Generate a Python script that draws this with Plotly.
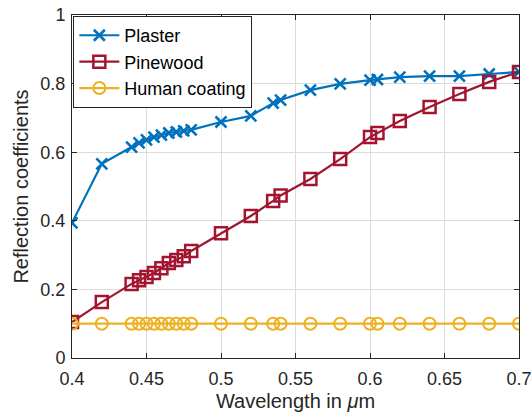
import plotly.graph_objects as go

wavelength = [0.40, 0.42, 0.44, 0.445, 0.45, 0.455, 0.46, 0.465, 0.47, 0.475, 0.48,
              0.50, 0.52, 0.535, 0.54, 0.56, 0.58, 0.60, 0.605, 0.62, 0.64, 0.66, 0.68, 0.70]
plaster = [0.394, 0.566, 0.615, 0.627, 0.636, 0.644, 0.650, 0.656, 0.659, 0.662, 0.665,
           0.688, 0.706, 0.743, 0.752, 0.781, 0.799, 0.810, 0.812, 0.819, 0.822, 0.822, 0.828, 0.834]
pinewood = [0.105, 0.163, 0.216, 0.227, 0.236, 0.248, 0.262, 0.277, 0.286, 0.297, 0.312,
            0.364, 0.414, 0.458, 0.474, 0.522, 0.580, 0.644, 0.656, 0.691, 0.732, 0.770, 0.805, 0.834]
human = [0.1] * len(wavelength)

x_ticks = [0.4, 0.45, 0.5, 0.55, 0.6, 0.65, 0.7]
x_labels = ["0.4", "0.45", "0.5", "0.55", "0.6", "0.65", "0.7"]
y_ticks = [0, 0.2, 0.4, 0.6, 0.8, 1]
y_labels = ["0", "0.2", "0.4", "0.6", "0.8", "1"]

FONT = "Liberation Sans, Arial"

fig = go.Figure()
fig.add_trace(go.Scatter(x=wavelength, y=plaster, name="Plaster", mode="lines+markers",
                         line=dict(color="#0072BD", width=2.2),
                         marker=dict(symbol="x-thin", size=11, line=dict(color="#0072BD", width=2.6))))
fig.add_trace(go.Scatter(x=wavelength, y=pinewood, name="Pinewood", mode="lines+markers",
                         line=dict(color="#A2142F", width=2.2),
                         marker=dict(symbol="square-open", size=12, color="#A2142F", line=dict(width=2.5))))
fig.add_trace(go.Scatter(x=wavelength, y=human, name="Human coating", mode="lines+markers",
                         line=dict(color="#EDB120", width=2.2),
                         marker=dict(symbol="circle-open", size=12, color="#EDB120", line=dict(width=2))))

axis_common = dict(showgrid=True, gridcolor="#dcdcdc", gridwidth=1, showline=True,
                   linecolor="#262626", linewidth=1, mirror="ticks", ticks="inside",
                   ticklen=5, tickcolor="#262626", zeroline=False, automargin=False,
                   tickfont=dict(family=FONT, size=18, color="#262626"))

fig.update_xaxes(range=[0.4, 0.7], tickvals=x_ticks, ticktext=x_labels,
                 ticklabelstandoff=4,
                 title=dict(text="Wavelength in <i>μ</i>m", standoff=6,
                            font=dict(family=FONT, size=20, color="#262626")),
                 **axis_common)
fig.update_yaxes(range=[0, 1], tickvals=y_ticks, ticktext=y_labels,
                 ticklabelstandoff=2,
                 title=dict(text="Reflection coefficients", standoff=6,
                            font=dict(family=FONT, size=20, color="#262626")),
                 **axis_common)

fig.update_layout(
    width=532, height=418,
    margin=dict(l=72, r=13, t=15, b=60, autoexpand=False),
    plot_bgcolor="white", paper_bgcolor="white",
    showlegend=True,
    legend=dict(x=0.003, y=0.997, xanchor="left", yanchor="top",
                bgcolor="white", bordercolor="#262626", borderwidth=1,
                font=dict(family=FONT, size=18, color="black"),
                itemwidth=40, tracegroupgap=0),
)

fig.write_html("out.html")
